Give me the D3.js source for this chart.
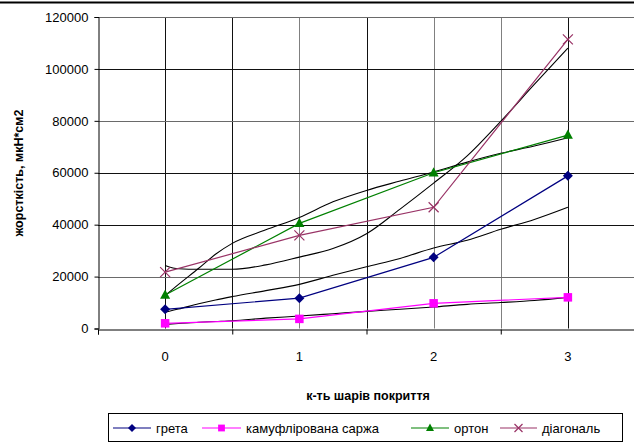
<!DOCTYPE html>
<html>
<head>
<meta charset="utf-8">
<script src="https://cdn.jsdelivr.net/npm/d3@7"></script>
<style>
  html, body { margin: 0; padding: 0; background: #fff; }
  svg { display: block; font-family: "Liberation Sans", Arial, sans-serif; }
</style>
</head>
<body>
<svg id="chart" width="634" height="444"></svg>
<script>
// Number of coating layers
const layers = [0, 1, 2, 3];

// Measured bending stiffness, мкН*см2
const greta = [7400, 11700, 27400, 58800];
const sarzha = [2000, 3700, 9700, 12000];
const orton = [12900, 40500, 60000, 74500];
const diagonal = [21700, 35900, 46700, 111400];

// Approximating curves (black), sampled along the layer axis
const curveX = [0, 0.1, 0.25, 0.375, 0.5, 0.75, 1, 1.25, 1.5, 1.75, 2, 2.25, 2.5, 2.75, 3];
const fitDiagonal = [24300, 23000, 22800, 22800, 22800, 24500, 27500, 30800, 36500, 46000, 56000, 66500, 79800, 94000, 108000];
const fitOrton = [12700, 17000, 23200, 28600, 32800, 38000, 42800, 48800, 53200, 56800, 60300, 64100, 67500, 70300, 73500];
const fitGreta = [6300, 7500, 9500, 11000, 12300, 14600, 17000, 20500, 23800, 27000, 31000, 34000, 38200, 42000, 46700];
const fitSarzha = [1600, 1900, 2400, 2700, 3000, 4000, 4800, 5700, 6600, 7400, 8300, 9300, 10000, 10800, 12000];

const yTicks = [0, 20000, 40000, 60000, 80000, 100000, 120000];
const seriesNames = ["грета", "камуфлірована саржа", "ортон", "діагональ"];

const series = [
  { name: seriesNames[0], values: greta, color: "#000080", marker: "diamond" },
  { name: seriesNames[1], values: sarzha, color: "#FF00FF", marker: "square" },
  { name: seriesNames[2], values: orton, color: "#008000", marker: "triangle" },
  { name: seriesNames[3], values: diagonal, color: "#993366", marker: "cross" }
];
const fits = [fitDiagonal, fitOrton, fitGreta, fitSarzha];

const svg = d3.select("#chart");
const plot = { left: 98, right: 635, top: 17, bottom: 328.5 };

const x = d3.scaleLinear().domain([-0.5, 3.5]).range([plot.left, plot.right]);
const y = d3.scaleLinear().domain([0, 120000]).range([plot.bottom, plot.top]);

// top rule
svg.append("line")
  .attr("x1", 0).attr("x2", 634).attr("y1", 2.5).attr("y2", 2.5)
  .attr("stroke", "#000").attr("stroke-width", 2);

// gridlines (half-category spacing)
const g = svg.append("g");
const vGrid = d3.range(0, 3.51, 0.5);
const lightV = new Set([2, 4, 5]);
g.selectAll("line.vg").data(vGrid).join("line")
  .attr("class", "vg")
  .attr("x1", d => Math.round(x(d)) + 0.5).attr("x2", d => Math.round(x(d)) + 0.5)
  .attr("y1", plot.top).attr("y2", plot.bottom)
  .attr("stroke", (d, i) => (lightV.has(i) || i === vGrid.length - 1 ? "#808080" : "#111"))
  .attr("stroke-width", 1);
const lightH = new Set([20000, 80000, 120000]);
g.selectAll("line.hg").data(yTicks.slice(1)).join("line")
  .attr("class", "hg")
  .attr("x1", plot.left).attr("x2", plot.right)
  .attr("y1", d => Math.round(y(d)) + 0.5).attr("y2", d => Math.round(y(d)) + 0.5)
  .attr("stroke", d => (lightH.has(d) ? "#6a6a6a" : "#111"))
  .attr("stroke-width", 1);

// y axis
const yAxis = svg.append("g")
  .attr("transform", `translate(${plot.left + 0.5},0)`)
  .call(d3.axisLeft(y).tickValues(yTicks).tickSize(4).tickPadding(6).tickFormat(d3.format("d")));
yAxis.select(".domain").attr("stroke", "#000");
yAxis.selectAll(".tick line").attr("stroke", "#000");
yAxis.selectAll("text").attr("font-size", 13).attr("fill", "#000")
  .attr("font-family", "Liberation Sans, Arial, sans-serif");

// x axis: ticks at category boundaries, labels at category centres
const xAxis = svg.append("g")
  .attr("transform", `translate(0,${Math.round(plot.bottom) + 0.5})`)
  .call(d3.axisBottom(x).tickValues([-0.5, 0.5, 1.5, 2.5, 3.5]).tickSize(5).tickFormat(""));
xAxis.select(".domain").attr("stroke", "#000");
xAxis.selectAll(".tick line").attr("stroke", "#000");
svg.append("g").selectAll("text").data(layers).join("text")
  .attr("x", d => x(d)).attr("y", 361)
  .attr("text-anchor", "middle").attr("font-size", 13).attr("fill", "#000")
  .text(d => d);

// axis titles
svg.append("text")
  .attr("x", 368).attr("y", 400)
  .attr("text-anchor", "middle").attr("font-size", 12.5).attr("font-weight", "bold")
  .text("к-ть шарів покриття");
svg.append("text")
  .attr("transform", "translate(23,173) rotate(-90)")
  .attr("text-anchor", "middle").attr("font-size", 12.5).attr("font-weight", "bold")
  .text("жорсткість, мкН*см2");

// approximating curves
const fitLine = d3.line().x((d, i) => x(curveX[i])).y(d => y(d)).curve(d3.curveMonotoneX);
svg.append("g").selectAll("path").data(fits).join("path")
  .attr("d", d => fitLine(d))
  .attr("fill", "none").attr("stroke", "#000").attr("stroke-width", 1.1);

// marker shapes
function drawMarker(sel, type, color, size) {
  const s = size;
  if (type === "diamond") {
    sel.append("path").attr("d", `M0,${-s}L${s},0L0,${s}L${-s},0Z`).attr("fill", color);
  } else if (type === "square") {
    sel.append("rect").attr("x", -s * 0.85).attr("y", -s * 0.85)
      .attr("width", s * 1.7).attr("height", s * 1.7).attr("fill", color);
  } else if (type === "triangle") {
    sel.append("path").attr("d", `M0,${-s * 1.1}L${s},${s * 0.75}L${-s},${s * 0.75}Z`).attr("fill", color);
  } else {
    sel.append("path").attr("d", `M${-s},${-s}L${s},${s}M${-s},${s}L${s},${-s}`)
      .attr("stroke", color).attr("stroke-width", 1.2).attr("fill", "none");
  }
}

// data series
const line = d3.line().x((d, i) => x(layers[i])).y(d => y(d));
series.forEach(s => {
  const gs = svg.append("g");
  gs.append("path").attr("d", line(s.values))
    .attr("fill", "none").attr("stroke", s.color).attr("stroke-width", 1.2);
  s.values.forEach((v, i) => {
    const m = gs.append("g").attr("transform", `translate(${x(layers[i])},${y(v)})`);
    drawMarker(m, s.marker, s.color, 5);
  });
});

// legend
const legend = svg.append("g");
legend.append("rect")
  .attr("x", 108.5).attr("y", 413.5).attr("width", 514).attr("height", 28)
  .attr("fill", "#fff").attr("stroke", "#000").attr("stroke-width", 1);
const legendPos = [
  { x1: 113, x2: 151, tx: 156 },
  { x1: 202, x2: 241, tx: 246 },
  { x1: 411, x2: 449, tx: 454 },
  { x1: 500, x2: 537, tx: 542 }
];
series.forEach((s, i) => {
  const p = legendPos[i];
  const item = legend.append("g");
  item.append("line").attr("x1", p.x1).attr("x2", p.x2).attr("y1", 428).attr("y2", 428)
    .attr("stroke", s.color).attr("stroke-width", 1.2);
  const m = item.append("g").attr("transform", `translate(${(p.x1 + p.x2) / 2},428)`);
  drawMarker(m, s.marker, s.color, 4);
  item.append("text").attr("x", p.tx).attr("y", 432.5)
    .attr("font-size", 13).attr("fill", "#000").text(s.name);
});
</script>
</body>
</html>
